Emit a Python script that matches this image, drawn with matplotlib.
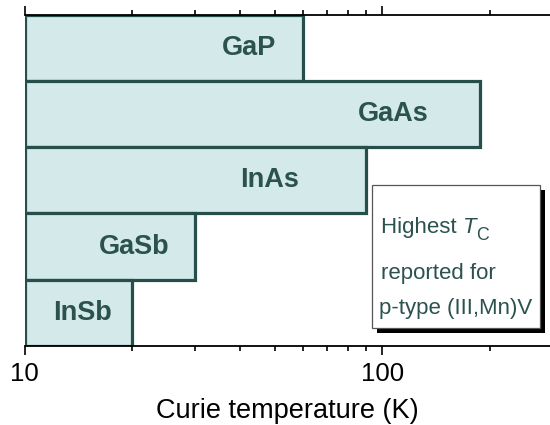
import matplotlib
matplotlib.use("Agg")
import matplotlib.pyplot as plt
from matplotlib.patches import Rectangle
from matplotlib.ticker import LogLocator, NullFormatter, FixedLocator, FixedFormatter

plt.rcParams['font.family'] = ['Liberation Sans', 'DejaVu Sans']

# data (top to bottom)
materials = ["GaP", "GaAs", "InAs", "GaSb", "InSb"]
curie_temp = [60, 187, 90, 30, 20]
label_x = [42.3, 107, 48.5, 20.2, 14.5]
major_ticks = [10, 100]
major_labels = ["10", "100"]

fill = "#d4e9ea"
edge = "#264f4b"
txt = "#2b524f"

fig = plt.figure(figsize=(5.5, 4.25), dpi=100)
ax = fig.add_axes([24.5/550, 79/425, 1 - 24.5/550, (346 - 14.5)/425])

ypos = list(range(len(materials)))[::-1]
ax.barh(ypos, [t - 10 for t in curie_temp], left=10, height=1.0,
        color=fill, edgecolor=edge, linewidth=2.3, zorder=2)
for y, name, lx in zip(ypos, materials, label_x):
    ax.text(lx, y, name, ha='center', va='center', fontsize=19.5,
            fontweight='bold', color=txt, zorder=3)

ax.set_xscale('log')
ax.set_xlim(10, 294)
ax.set_ylim(-0.5, len(materials) - 0.5)
ax.xaxis.set_major_locator(FixedLocator(major_ticks))
ax.xaxis.set_major_formatter(FixedFormatter(major_labels))
ax.xaxis.set_minor_locator(LogLocator(base=10, subs=range(2, 10)))
ax.xaxis.set_minor_formatter(NullFormatter())
ax.tick_params(axis='x', which='both', direction='out', top=True, bottom=True,
               color='black', width=1.2, labelsize=18.5, pad=5)
ax.tick_params(axis='x', which='major', length=6.5)
ax.tick_params(axis='x', which='minor', length=3.5)
ax.set_yticks([])
for s in ['left', 'right']:
    ax.spines[s].set_visible(False)
for s in ['top', 'bottom']:
    ax.spines[s].set_linewidth(1.3)
    ax.spines[s].set_color('black')
ax.set_xlabel("Curie temperature (K)", fontsize=19.5, labelpad=9)

# annotation box with shadow
fig.patches.append(Rectangle((377/550, (425-333)/425), 168/550, 143/425,
                             transform=fig.transFigure, facecolor='black',
                             edgecolor='none', zorder=5))
fig.patches.append(Rectangle((372/550, (425-328)/425), 168/550, 143/425,
                             transform=fig.transFigure, facecolor='white',
                             edgecolor='#555555', linewidth=0.9, zorder=6))
fs = 16
t1 = fig.text(381/550, (425-233)/425, "Highest ", fontsize=fs,
              color=txt, va='baseline', ha='left', zorder=7)
t2 = fig.text(0, 0, "T", fontsize=fs, fontstyle='italic', color=txt,
              va='baseline', ha='left', zorder=7)
fig.canvas.draw()
r = fig.canvas.get_renderer()
bb = t1.get_window_extent(r)
t2.set_position((bb.x1 / fig.bbox.width, (425-233)/425))
bb2 = t2.get_window_extent(r)
fig.text(bb2.x1 / fig.bbox.width - 0.001, (425-240)/425, "C", fontsize=fs*0.8,
         color=txt, va='baseline', ha='left', zorder=7)
fig.text(381/550, (425-279)/425, "reported for", fontsize=fs,
         color=txt, va='baseline', ha='left', zorder=7)
fig.text(379/550, (425-314)/425, "p-type (III,Mn)V", fontsize=fs,
         color=txt, va='baseline', ha='left', zorder=7)

fig.savefig("out.png", dpi=100)
